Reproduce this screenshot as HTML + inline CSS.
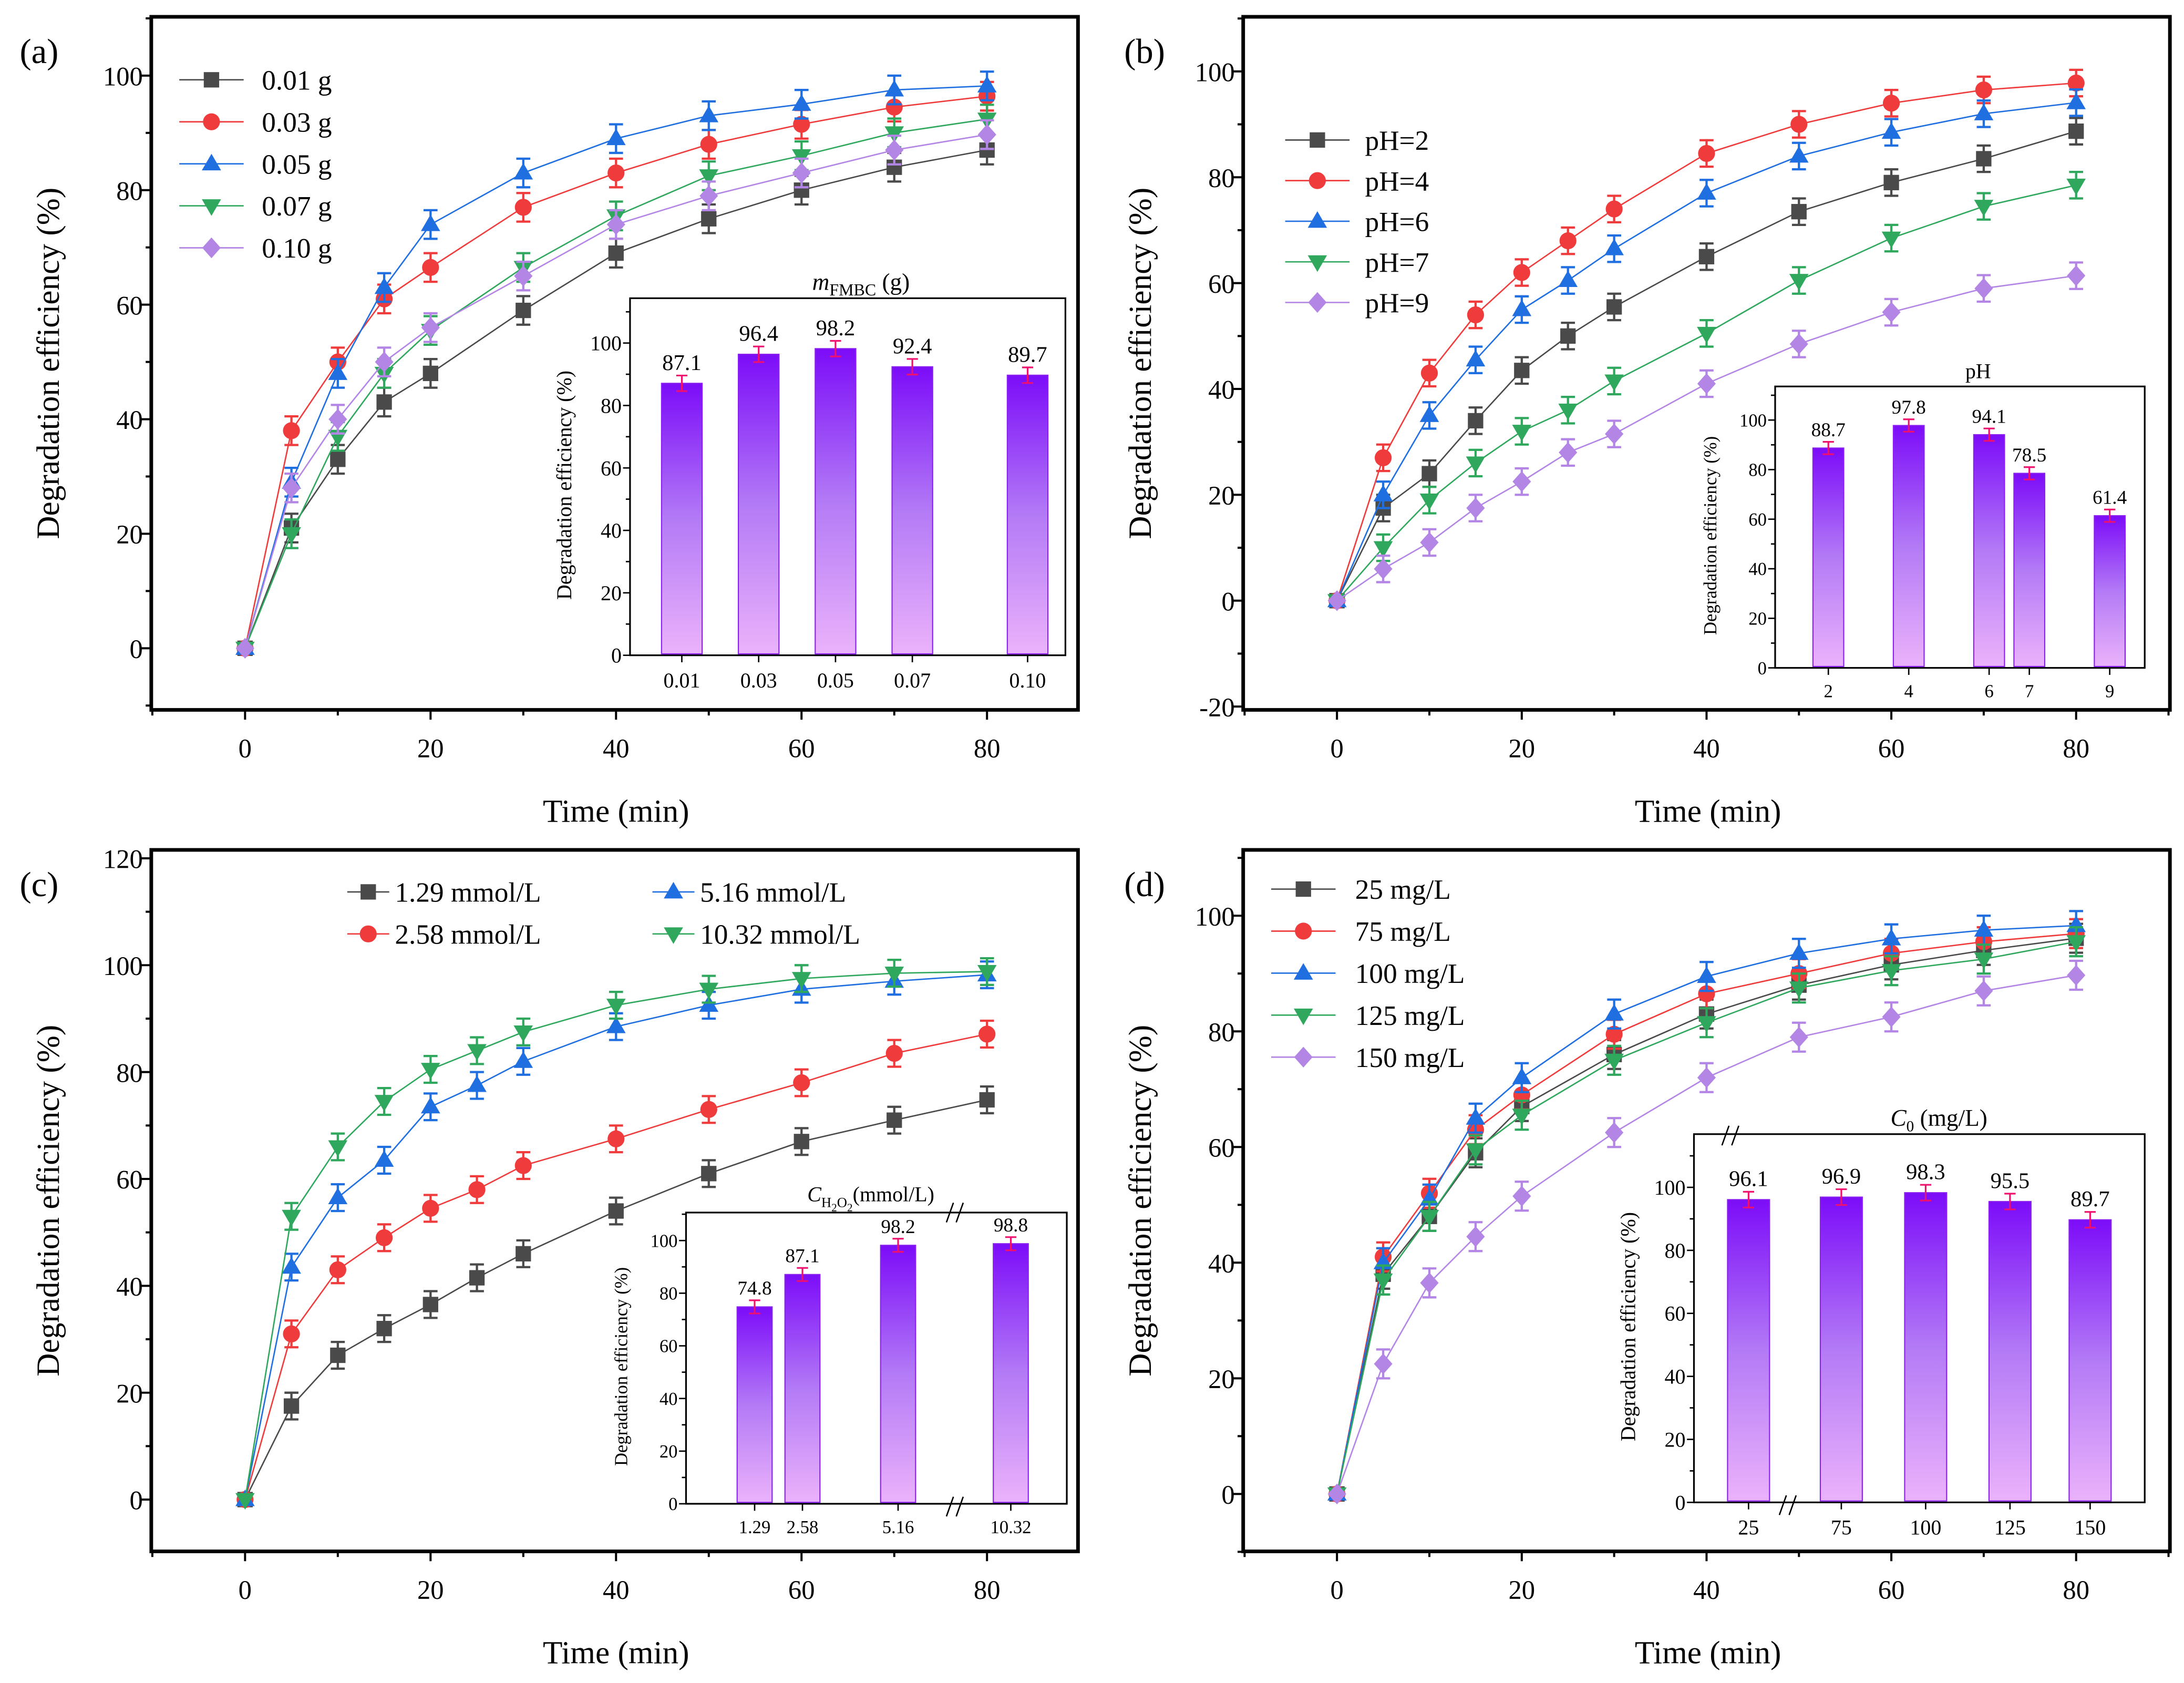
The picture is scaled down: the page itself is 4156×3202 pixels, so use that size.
<!DOCTYPE html>
<html><head><meta charset="utf-8"><style>
html,body{margin:0;padding:0;background:#fff}
svg{display:block}
svg text{font-family:"Liberation Serif","DejaVu Serif",serif;fill:#000}
</style></head><body>
<svg id="chart" xmlns="http://www.w3.org/2000/svg" width="4156" height="3202" viewBox="0 0 1560 1202" font-family="'Liberation Serif', 'DejaVu Serif', serif">
<defs><linearGradient id="bargrad" x1="0" y1="0" x2="0" y2="1"><stop offset="0" stop-color="#7c0cf8"/><stop offset="0.5" stop-color="#b37af6"/><stop offset="1" stop-color="#ebb2fb"/></linearGradient></defs>
<rect width="1560" height="1202" fill="#fff"/>
</svg>
<script>
// ---------- data ----------
const timesA=[0,5,10,15,20,30,40,50,60,70,80];
const labelsA=["0.01 g","0.03 g","0.05 g","0.07 g","0.10 g"];
const a001=[0,21,33,43,48,59,69,75,80,84,87];
const a003=[0,38,50,61,66.5,77,83,88,91.5,94.5,96.4];
const a005=[0,29,48,63,74,83,89,93,95,97.5,98.2];
const a007=[0,20,37,48,55.5,66.5,75.5,82.5,86,90,92.4];
const a010=[0,28,40,50,56,65,74,79,83,87,89.7];
const barCatsA=["0.01","0.03","0.05","0.07","0.10"];
const barPosA=[1,3,5,7,10];
const barValsA=[87.1,96.4,98.2,92.4,89.7];

const timesB=[0,5,10,15,20,25,30,40,50,60,70,80];
const labelsB=["pH=2","pH=4","pH=6","pH=7","pH=9"];
const bpH2=[0,17.5,24,34,43.5,50,55.5,65,73.5,79,83.5,88.7];
const bpH4=[0,27,43,54,62,68,74,84.5,90,94,96.5,97.8];
const bpH6=[0,20,35,45.5,55,60.5,66.5,77,84,88.5,92,94.1];
const bpH7=[0,10,19,26,32,36,41.5,50.5,60.5,68.5,74.5,78.5];
const bpH9=[0,6,11,17.5,22.5,28,31.5,41,48.5,54.5,59,61.4];
const barCatsB=["2","4","6","7","9"];
const barPosB=[2,4,6,7,9];
const barValsB=[88.7,97.8,94.1,78.5,61.4];

const timesC=[0,5,10,15,20,25,30,40,50,60,70,80];
const labelsC=["1.29 mmol/L","2.58 mmol/L","5.16 mmol/L","10.32 mmol/L"];
const c129=[0,17.5,27,32,36.5,41.5,46,54,61,67,71,74.8];
const c258=[0,31,43,49,54.5,58,62.5,67.5,73,78,83.5,87.1];
const c516=[0,43.5,56.5,63.5,73.5,77.5,82,88.5,92.5,95.5,97,98.2];
const c1032=[0,53,66,74.5,80.5,84,87.5,92.5,95.5,97.5,98.5,98.8];
const barCatsC=["1.29","2.58","5.16","10.32"];
const barPosC=[1.29,2.58,5.16,8.2];
const barValsC=[74.8,87.1,98.2,98.8];

const timesD=[0,5,10,15,20,30,40,50,60,70,80];
const labelsD=["25 mg/L","75 mg/L","100 mg/L","125 mg/L","150 mg/L"];
const d25=[0,38,48,59,67,76,83,88,91.5,94,96.1];
const d75=[0,41,52,63,69,79.5,86.5,90,93.5,95.5,96.9];
const d100=[0,40,51,65,72,83,89.5,93.5,96,97.5,98.3];
const d125=[0,37,48,59.5,65.5,75,81.5,87.5,90.5,92.5,95.5];
const d150=[0,22.5,36.5,44.5,51.5,62.5,72,79,82.5,87,89.7];
const barCatsD=["25","75","100","125","150"];
const barPosD=[1,2.1,3.1,4.1,5.05];
const barValsD=[96.1,96.9,98.3,95.5,89.7];

const errMain=2.5;
const errBar=2.5;

// ---------- helpers ----------
const NS="http://www.w3.org/2000/svg";
const svg=document.getElementById('chart');
const FONT="'Liberation Serif', 'DejaVu Serif', serif";
function el(tag,attrs,parent){const e=document.createElementNS(NS,tag);for(const k in attrs)e.setAttribute(k,attrs[k]);if(tag==='text')e.setAttribute('font-family',FONT);(parent||svg).appendChild(e);return e;}
function lin(d0,d1,r0,r1){return v=>r0+(v-d0)*(r1-r0)/(d1-d0);}
const COLORS=["#4a4a4a","#ef3b3b","#1f6fe0","#2fa85e","#b386e6"];
const SHAPES=["square","circle","up","down","diamond"];

function marker(g,shape,x,y,c,s){
  let e;
  if(shape==="square")e=el('rect',{x:x-s,y:y-s,width:2*s,height:2*s,fill:c},g);
  else if(shape==="circle")e=el('circle',{cx:x,cy:y,r:s*1.1,fill:c},g);
  else if(shape==="up")e=el('polygon',{points:`${x},${y-s*1.3} ${x-s*1.25},${y+s*0.85} ${x+s*1.25},${y+s*0.85}`,fill:c},g);
  else if(shape==="down")e=el('polygon',{points:`${x},${y+s*1.3} ${x-s*1.25},${y-s*0.85} ${x+s*1.25},${y-s*0.85}`,fill:c},g);
  else e=el('polygon',{points:`${x},${y-s*1.35} ${x+s*1.2},${y} ${x},${y+s*1.35} ${x-s*1.2},${y}`,fill:c},g);
  
  
  return e;
}

function mainPanel(id,box,xd,yd,yticks,letter,lx,ly){
  const [x0,y0,x1,y1]=box;
  const X=lin(xd[0],xd[1],xd[2],xd[3]);
  const Y=lin(yd[0],yd[1],yd[2],yd[3]);
  const g=el('g',{});
  
  
  const fr=el('rect',{x:x0,y:y0,width:x1-x0,height:y1-y0,fill:'none',stroke:'#000','stroke-width':2.6},g);
  
  
  for(let v=-10;v<=90;v+=10){
    const px=X(v); if(px<x0-0.5||px>x1+0.5)continue;
    const major=v%20===0;
    const t=el('line',{x1:px,y1:y1,x2:px,y2:y1+(major?7:4),stroke:'#000','stroke-width':1.5},g);
    
    
    if(major&&v>=0&&v<=80){
      const tl=el('text',{x:px,y:y1+34,'font-size':19,'text-anchor':'middle'},g);tl.textContent=v;
      
      
    }
  }
  for(let v=yticks[0]-10;v<=yticks[yticks.length-1]+20;v+=10){
    const py=Y(v); if(py<y0-0.5||py>y1+0.5)continue;
    const major=yticks.includes(v);
    const t=el('line',{x1:x0,y1:py,x2:x0-(major?7:4),y2:py,stroke:'#000','stroke-width':1.5},g);
    
    
    if(major){
      const tl=el('text',{x:x0-6,y:py+7,'font-size':19,'text-anchor':'end'},g);tl.textContent=v;
      
      
    }
  }
  const xt=el('text',{x:(x0+x1)/2+1,y:y1+80,'font-size':23,'text-anchor':'middle'},g);xt.textContent='Time (min)';
  
  
  const cy=(y0+y1)/2;
  const yt=el('text',{x:x0-66,y:cy,'font-size':23,'text-anchor':'middle',transform:`rotate(-90 ${x0-66} ${cy})`},g);yt.textContent='Degradation efficiency (%)';
  
  
  const pl=el('text',{x:lx,y:ly,'font-size':25},g);pl.textContent=letter;
  
  
  return {g,X,Y};
}

function series(p,times,vals,ci,name){
  const g=el('g',{},p.g);
  
  
  const c=COLORS[ci];
  const ln=el('polyline',{points:times.map((t,i)=>`${p.X(t)},${p.Y(vals[i])}`).join(' '),fill:'none',stroke:c,'stroke-width':1},g);
  
  
  times.forEach((t,i)=>{
    const x=p.X(t),v=vals[i];
    if(v>0){
      const ya=p.Y(v+errMain),yb=p.Y(v-errMain);
      const e=el('path',{d:`M${x},${ya}V${yb}M${x-5},${ya}H${x+5}M${x-5},${yb}H${x+5}`,stroke:c,'stroke-width':1.6,fill:'none'},g);
      
      
    }
    marker(g,SHAPES[ci],x,p.Y(v),c,5.5);
  });
}

function legend(p,labels,ci0,lx,ly,dy,tx,len){
  const L=len||46;
  labels.forEach((lab,i)=>{
    const ci=ci0[i];
    const g=el('g',{},p.g);
    
    
    const y=ly+i*dy;
    el('line',{x1:lx,y1:y,x2:lx+L,y2:y,stroke:COLORS[ci],'stroke-width':1},g);
    marker(g,SHAPES[ci],lx+L/2,y,COLORS[ci],5.5);
    const t=el('text',{x:tx,y:y+7,'font-size':20},g);t.textContent=lab;
    
    
  });
}

function inset(p,box,xd,yd,cats,pos,vals,bw,fs,title,breaks){
  const [x0,y0,x1,y1]=box;
  const X=lin(xd[0],xd[1],xd[2],xd[3]);
  const Y=lin(0,100,yd[0],yd[1]);
  const g=el('g',{},p.g);
  
  
  const bg=el('rect',{x:x0,y:y0,width:x1-x0,height:y1-y0,fill:'#fff',stroke:'#000','stroke-width':1.2},g);
  
  
  for(let v=0;v<=110;v+=10){
    const py=Y(v); if(py<y0)continue;
    const major=v%20===0;
    const t=el('line',{x1:x0,y1:py,x2:x0-(major?5:3),y2:py,stroke:'#000','stroke-width':1},g);
    
    
    if(major){
      const tl=el('text',{x:x0-6,y:py+fs*0.35,'font-size':fs,'text-anchor':'end'},g);tl.textContent=v;
      
      
    }
  }
  pos.forEach((ps,i)=>{
    const cx=X(ps),v=vals[i];
    const b=el('rect',{x:cx-bw/2,y:Y(v),width:bw,height:Y(0)-Y(v)-1,fill:'url(#bargrad)',stroke:'#8a20f0','stroke-width':0.8},g);
    
    
    const ya=Y(v+errBar),yb=Y(v-errBar);
    const e=el('path',{d:`M${cx},${ya}V${yb}M${cx-4},${ya}H${cx+4}M${cx-4},${yb}H${cx+4}`,stroke:'#f0106e','stroke-width':1.2,fill:'none'},g);
    
    
    const vl=el('text',{x:cx,y:ya-4,'font-size':fs+1,'text-anchor':'middle'},g);vl.textContent=v.toFixed(1);
    
    
    const tk=el('line',{x1:cx,y1:y1,x2:cx,y2:y1+5,stroke:'#000','stroke-width':1},g);
    
    
    const xl=el('text',{x:cx,y:y1+fs+8,'font-size':fs,'text-anchor':'middle'},g);xl.textContent=cats[i];
    
    
  });
  const cy=(y0+y1)/2;
  const yt=el('text',{x:x0-42,y:cy+6,'font-size':fs,'text-anchor':'middle',transform:`rotate(-90 ${x0-42} ${cy+6})`},g);yt.textContent='Degradation efficiency (%)';
  
  
  const tt=el('text',{x:title.x,y:title.y,'font-size':fs+2,'text-anchor':'middle'},g);
  tt.innerHTML=title.html;
  
  
  (breaks||[]).forEach(([bx,by])=>{
    const br=el('path',{d:`M${bx-6},${by+7}L${bx-1},${by-7}M${bx+1},${by+7}L${bx+6},${by-7}`,stroke:'#000','stroke-width':1,fill:'none'},g);
    
    
  });
}

// ---------- panel a ----------
const pa=mainPanel('a',[108,12,770,507],[0,80,175,705],[0,100,463,54],[0,20,40,60,80,100],'(a)',14,45);
[a001,a003,a005,a007,a010].forEach((s,i)=>series(pa,timesA,s,i,'series-'+labelsA[i].replace(' ','')));
legend(pa,labelsA,[0,1,2,3,4],128,57,30,187);
inset(pa,[450,213,761,468],[1,10,487,734],[468,245],barCatsA,barPosA,barValsA,29,15,
  {x:615,y:207,html:'<tspan font-style="italic">m</tspan><tspan font-size="12" dy="4">FMBC</tspan><tspan dy="-4"> (g)</tspan>'});

// ---------- panel b ----------
const pb=mainPanel('b',[888,12,1550,507],[0,80,955,1483],[0,100,429,51],[-20,0,20,40,60,80,100],'(b)',803,45);
[bpH2,bpH4,bpH6,bpH7,bpH9].forEach((s,i)=>series(pb,timesB,s,i,'series-pH'+[2,4,6,7,9][i]));
legend(pb,labelsB,[0,1,2,3,4],918,100,29,975);
inset(pb,[1268,276,1532,477],[2,9,1306,1507],[477,300],barCatsB,barPosB,barValsB,22,13,
  {x:1413,y:270,html:'pH'});

// ---------- panel c ----------
const pc=mainPanel('c',[108,607,770,1108],[0,80,175,705],[0,120,1071,613],[0,20,40,60,80,100,120],'(c)',14,640);
[c129,c258,c516,c1032].forEach((s,i)=>series(pc,timesC,s,i,'series-'+barCatsC[i]));
legend(pc,[labelsC[0],labelsC[1]],[0,1],248,637,30,282,30);
legend(pc,[labelsC[2],labelsC[3]],[2,3],466,637,30,500,30);
inset(pc,[490,866,762,1074],[1.29,8.2,539,722],[1074,886],barCatsC,barPosC,barValsC,25,13,
  {x:622,y:858,html:'<tspan font-style="italic">C</tspan><tspan font-size="10" dy="4">H</tspan><tspan font-size="8" dy="3">2</tspan><tspan font-size="10" dy="-3">O</tspan><tspan font-size="8" dy="3">2</tspan><tspan dy="-7">(mmol/L)</tspan>'},
  [[682,866],[682,1076]]);

// ---------- panel d ----------
const pd=mainPanel('d',[888,607,1550,1108],[0,80,955,1483],[0,100,1067,654],[0,20,40,60,80,100],'(d)',803,640);
[d25,d75,d100,d125,d150].forEach((s,i)=>series(pd,timesD,s,i,'series-'+barCatsD[i]));
legend(pd,labelsD,[0,1,2,3,4],908,635,30,968);
inset(pd,[1210,810,1532,1073],[1,5.05,1249,1493],[1073,848],barCatsD,barPosD,barValsD,30,15,
  {x:1385,y:804,html:'<tspan font-style="italic">C</tspan><tspan font-size="11" dy="4">0</tspan><tspan dy="-4"> (mg/L)</tspan>'},
  [[1277,1075],[1236,811]]);
</script>
</body></html>
